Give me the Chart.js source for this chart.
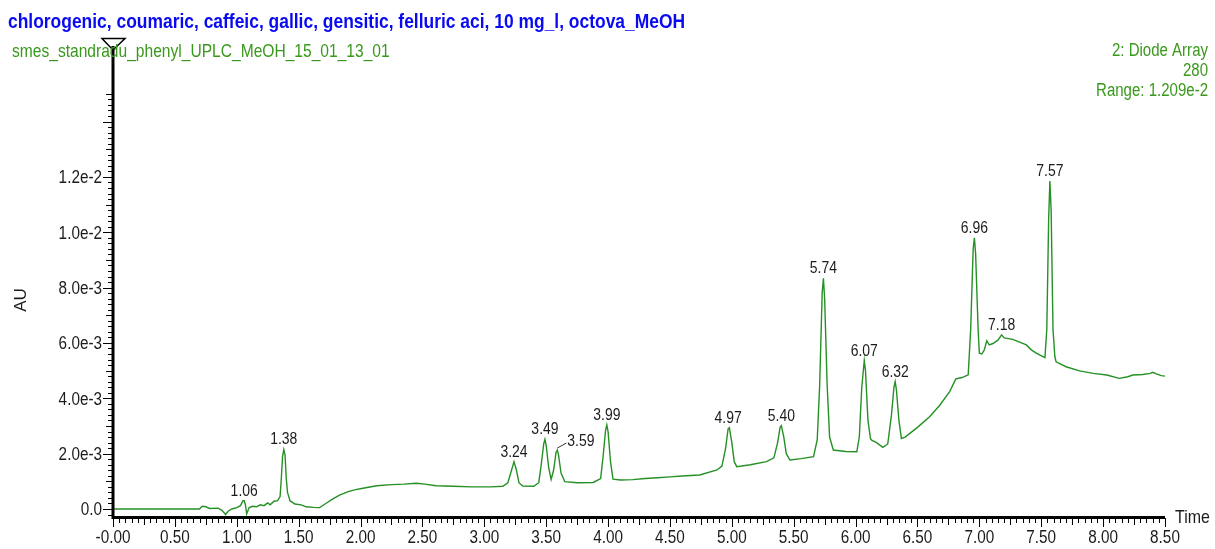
<!DOCTYPE html>
<html lang="en">
<head>
<meta charset="UTF-8">
<title>Chromatogram</title>
<style>
  html, body { margin: 0; padding: 0; background: #fff; }
  canvas { display: block; }
</style>
</head>
<body>
<canvas id="chromatogram" width="1215" height="549"></canvas>
<script src="https://cdn.jsdelivr.net/npm/chart.js@4.4.1/dist/chart.umd.min.js"></script>
<script>
const titleText = 'chlorogenic, coumaric, caffeic, gallic, gensitic, felluric aci, 10 mg_l, octova_MeOH';
const fileText = 'smes_standradu_phenyl_UPLC_MeOH_15_01_13_01';
const detectorLines = ['2: Diode Array', '280', 'Range: 1.209e-2'];

// retention time, min
const time = [
  0.00, 0.50, 0.70, 0.72, 0.75, 0.78, 0.85, 0.88, 0.91, 0.93, 0.96, 1.00, 1.03, 1.05, 1.06, 1.07, 1.08,
  1.10, 1.13, 1.16, 1.19, 1.22, 1.25, 1.27, 1.30, 1.33, 1.35, 1.36, 1.37, 1.38, 1.39, 1.40, 1.41, 1.43,
  1.47, 1.52, 1.56, 1.62, 1.67, 1.72, 1.77, 1.83, 1.90, 1.96, 2.02, 2.13, 2.25, 2.35, 2.45, 2.52, 2.61,
  2.75, 2.90, 3.05, 3.15, 3.19, 3.22, 3.24, 3.26, 3.28, 3.31, 3.40, 3.44, 3.46, 3.48, 3.49, 3.50, 3.52,
  3.54, 3.56, 3.58, 3.59, 3.60, 3.62, 3.65, 3.75, 3.88, 3.94, 3.96, 3.98, 3.99, 4.00, 4.02, 4.04, 4.10,
  4.20, 4.30, 4.40, 4.50, 4.60, 4.74, 4.88, 4.92, 4.95, 4.97, 4.98, 5.00, 5.02, 5.04, 5.15, 5.28, 5.34,
  5.37, 5.39, 5.40, 5.42, 5.44, 5.47, 5.56, 5.66, 5.69, 5.71, 5.73, 5.74, 5.75, 5.77, 5.79, 5.82, 5.92,
  6.01, 6.03, 6.05, 6.07, 6.08, 6.10, 6.12, 6.13, 6.17, 6.22, 6.26, 6.29, 6.31, 6.32, 6.33, 6.35, 6.37,
  6.40, 6.50, 6.60, 6.68, 6.76, 6.81, 6.86, 6.91, 6.93, 6.95, 6.96, 6.97, 6.99, 7.00, 7.02, 7.04, 7.06,
  7.08, 7.11, 7.15, 7.18, 7.20, 7.27, 7.33, 7.38, 7.42, 7.46, 7.53, 7.545, 7.56, 7.57, 7.58, 7.595, 7.61,
  7.62, 7.70, 7.81, 7.92, 8.03, 8.13, 8.20, 8.24, 8.32, 8.38, 8.40, 8.43, 8.47, 8.50
];
// absorbance, 1e-3 AU
const absorbance = [
  0.00, 0.00, 0.00, 0.10, 0.08, 0.02, 0.03, -0.05, -0.20, -0.08, 0.00, 0.05, 0.12, 0.30, 0.30, 0.15, -0.18,
  0.05, 0.10, 0.08, 0.15, 0.12, 0.22, 0.15, 0.28, 0.30, 0.45, 1.10, 1.90, 2.15, 1.95, 1.10, 0.60, 0.30,
  0.18, 0.15, 0.08, 0.06, 0.05, 0.20, 0.35, 0.50, 0.63, 0.70, 0.75, 0.84, 0.88, 0.90, 0.93, 0.90, 0.84,
  0.82, 0.80, 0.80, 0.82, 0.95, 1.40, 1.71, 1.40, 0.95, 0.83, 0.82, 0.95, 1.60, 2.35, 2.52, 2.30, 1.50,
  1.07, 1.40, 2.05, 2.13, 1.95, 1.30, 0.99, 0.95, 0.96, 1.10, 1.90, 2.85, 3.04, 2.80, 1.70, 1.08, 1.05,
  1.06, 1.10, 1.13, 1.16, 1.19, 1.23, 1.41, 1.55, 2.20, 2.90, 2.94, 2.40, 1.70, 1.53, 1.60, 1.71, 1.85,
  2.40, 2.95, 3.01, 2.60, 2.00, 1.77, 1.82, 1.89, 2.50, 4.50, 7.80, 8.34, 7.60, 4.50, 2.60, 2.13, 2.08,
  2.07, 2.60, 4.40, 5.36, 5.00, 3.20, 2.55, 2.49, 2.40, 2.23, 2.35, 3.40, 4.40, 4.60, 4.30, 3.20, 2.55,
  2.60, 2.95, 3.34, 3.75, 4.24, 4.70, 4.75, 4.85, 6.50, 9.40, 9.80, 9.20, 6.50, 5.63, 5.60, 5.75, 6.08,
  5.93, 5.98, 6.10, 6.29, 6.18, 6.13, 6.02, 5.93, 5.75, 5.63, 5.47, 6.50, 10.50, 11.85, 10.80, 6.50, 5.50,
  5.32, 5.14, 4.99, 4.90, 4.84, 4.72, 4.78, 4.84, 4.86, 4.90, 4.94, 4.88, 4.82, 4.80
];

const peakTimes = [1.06, 1.38, 3.24, 3.49, 3.59, 3.99, 4.97, 5.40, 5.74, 6.07, 6.32, 6.96, 7.18, 7.57];
const peakHeights = [0.30, 2.15, 1.71, 2.52, 2.13, 3.04, 2.94, 3.01, 8.34, 5.36, 4.60, 9.80, 6.29, 11.85];

const yTickValues = [0, 2, 4, 6, 8, 10, 12];

const sans = "'Liberation Sans', Arial, sans-serif";
const inkColor = '#1c1c1c';
const greenText = '#3a981c';

const fmtTime = v => v === 0 ? '-0.00' : v.toFixed(2);
const fmtAbs = v => v === 0 ? '0.0' : (v * 1e-3).toExponential(1);

// the original uses a narrow face; squeeze Liberation Sans sideways
function narrowText(ctx, text, x, y, squeeze, align) {
  ctx.save();
  ctx.translate(x, y);
  ctx.scale(squeeze, 1);
  ctx.textAlign = align;
  ctx.fillText(text, 0, 0);
  ctx.restore();
}

const decor = {
  id: 'decor',
  afterDraw(chart) {
    const ctx = chart.ctx;
    const xs = chart.scales.x, ys = chart.scales.y;
    const { left, right, bottom } = chart.chartArea;
    ctx.save();

    // axis lines
    ctx.strokeStyle = '#000';
    ctx.lineWidth = 3;
    ctx.beginPath();
    ctx.moveTo(left, 46);
    ctx.lineTo(left, bottom + 1.5);
    ctx.lineTo(right, bottom + 1.5);
    ctx.stroke();

    // tick marks
    ctx.lineWidth = 1;
    ctx.beginPath();
    for (let i = 0; i <= 170; i++) {
      const px = Math.round(xs.getPixelForValue(i * 0.05)) + 0.5;
      const len = i % 10 === 0 ? 9 : (i % 5 === 0 ? 7 : 5);
      ctx.moveTo(px, bottom + 2);
      ctx.lineTo(px, bottom + 2 + len);
    }
    for (let i = -1; i <= 75; i++) {
      const py = Math.round(ys.getPixelForValue(i * 0.2)) + 0.5;
      const len = i % 10 === 0 ? 9 : (i % 5 === 0 ? 6 : 4);
      ctx.moveTo(left - 1, py);
      ctx.lineTo(left - 1 - len, py);
    }
    ctx.stroke();

    // marker triangle on top of the y axis
    ctx.lineWidth = 1.5;
    ctx.beginPath();
    ctx.moveTo(left - 11, 38.5);
    ctx.lineTo(left + 12, 38.5);
    ctx.lineTo(left, 50);
    ctx.closePath();
    ctx.stroke();

    ctx.textBaseline = 'alphabetic';

    // tick labels from the chart's own scales
    ctx.fillStyle = inkColor;
    ctx.font = '18px ' + sans;
    xs.ticks.forEach(t => {
      narrowText(ctx, t.label ?? fmtTime(t.value), xs.getPixelForValue(t.value), 543, 0.85, 'center');
    });
    ys.ticks.forEach(t => {
      narrowText(ctx, t.label ?? fmtAbs(t.value), 102, ys.getPixelForValue(t.value) + 6.5, 0.85, 'right');
    });

    // header texts
    ctx.fillStyle = '#0a0af2';
    ctx.font = 'bold 21px ' + sans;
    narrowText(ctx, titleText, 8, 28, 0.83, 'left');
    ctx.fillStyle = greenText;
    ctx.font = '19px ' + sans;
    narrowText(ctx, fileText, 12, 57, 0.82, 'left');
    ctx.font = '18px ' + sans;
    detectorLines.forEach((s, i) => narrowText(ctx, s, 1208, 56 + i * 20, 0.835, 'right'));

    // axis titles
    ctx.fillStyle = inkColor;
    ctx.font = '19px ' + sans;
    narrowText(ctx, 'Time', 1175, 523, 0.84, 'left');
    ctx.save();
    ctx.translate(26, 300);
    ctx.rotate(-Math.PI / 2);
    ctx.font = '17px ' + sans;
    ctx.textAlign = 'center';
    ctx.fillText('AU', 0, 0);
    ctx.restore();

    // peak labels
    ctx.font = '17px ' + sans;
    peakTimes.forEach((t, i) => {
      const px = xs.getPixelForValue(t);
      const py = ys.getPixelForValue(peakHeights[i]);
      if (t === 3.59) {
        ctx.strokeStyle = '#333';
        ctx.lineWidth = 1;
        ctx.beginPath();
        ctx.moveTo(px, py - 2);
        ctx.lineTo(px + 9, py - 7);
        ctx.stroke();
        narrowText(ctx, t.toFixed(2), px + 10, py - 4, 0.82, 'left');
      } else {
        narrowText(ctx, t.toFixed(2), px, py - 5, 0.82, 'center');
      }
    });
    ctx.restore();
  }
};

new Chart(document.getElementById('chromatogram'), {
  type: 'line',
  data: {
    datasets: [{
      data: time.map((t, i) => ({ x: t, y: absorbance[i] })),
      borderColor: '#259025',
      borderWidth: 1.4,
      pointRadius: 0,
      tension: 0,
      fill: false
    }]
  },
  options: {
    responsive: false,
    animation: false,
    devicePixelRatio: 1,
    layout: { padding: { top: 90, right: 50, left: 0, bottom: 0 } },
    plugins: { legend: { display: false }, tooltip: { enabled: false } },
    scales: {
      x: {
        type: 'linear',
        min: 0,
        max: 8.5,
        grid: { display: false, drawTicks: false },
        border: { display: false },
        afterFit: s => { s.height = 33; },
        ticks: { display: false, stepSize: 0.5, autoSkip: false, callback: fmtTime }
      },
      y: {
        min: -0.253,
        max: 15.14,
        grid: { display: false, drawTicks: false },
        border: { display: false },
        afterFit: s => { s.width = 113; },
        afterBuildTicks: s => { s.ticks = yTickValues.map(v => ({ value: v })); },
        ticks: { display: false, callback: fmtAbs }
      }
    }
  },
  plugins: [decor]
});
</script>
</body>
</html>
